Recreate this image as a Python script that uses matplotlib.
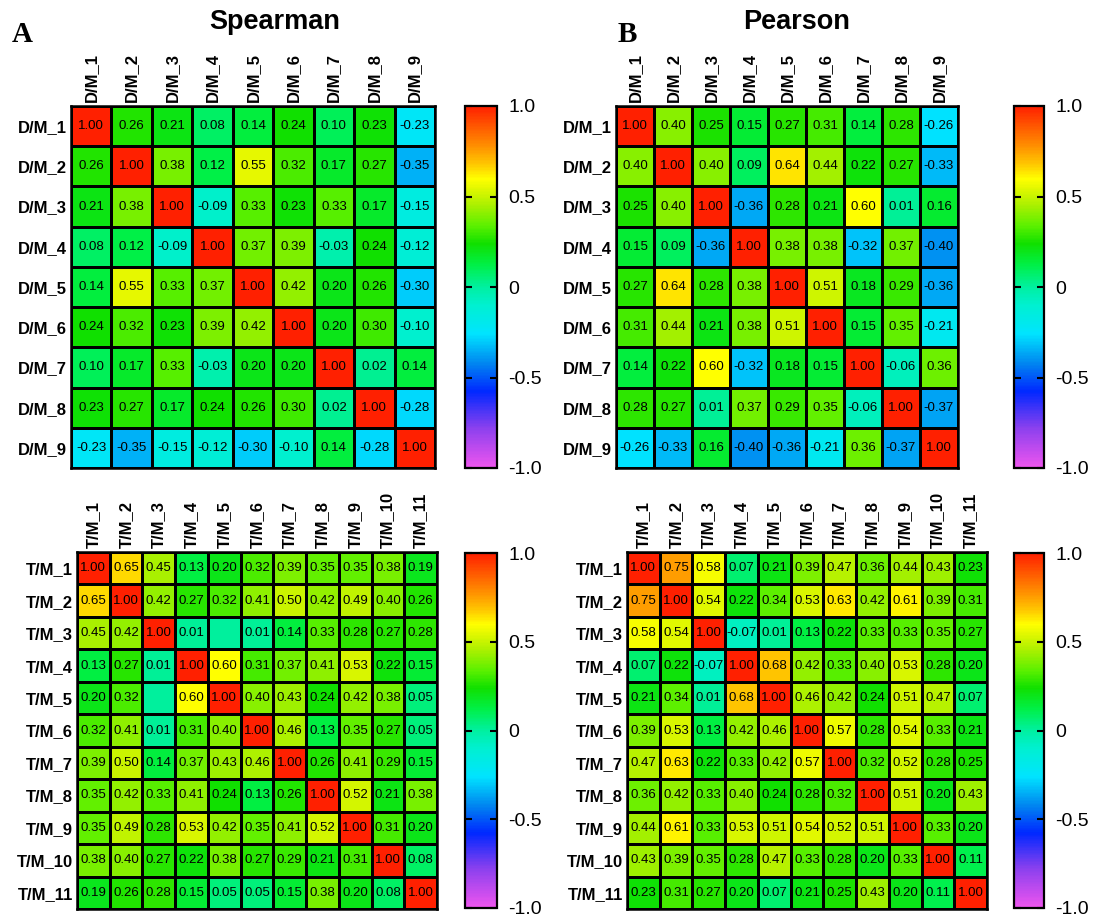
import numpy as np
import matplotlib.pyplot as plt
from matplotlib.colors import LinearSegmentedColormap

plt.rcParams['font.family'] = ['Liberation Sans', 'DejaVu Sans']

dm_labels = ['D/M_1', 'D/M_2', 'D/M_3', 'D/M_4', 'D/M_5', 'D/M_6', 'D/M_7', 'D/M_8', 'D/M_9']
tm_labels = ['T/M_1', 'T/M_2', 'T/M_3', 'T/M_4', 'T/M_5', 'T/M_6', 'T/M_7', 'T/M_8',
             'T/M_9', 'T/M_10', 'T/M_11']

spearman_dm = [
    [1.00, 0.26, 0.21, 0.08, 0.14, 0.24, 0.10, 0.23, -0.23],
    [0.26, 1.00, 0.38, 0.12, 0.55, 0.32, 0.17, 0.27, -0.35],
    [0.21, 0.38, 1.00, -0.09, 0.33, 0.23, 0.33, 0.17, -0.15],
    [0.08, 0.12, -0.09, 1.00, 0.37, 0.39, -0.03, 0.24, -0.12],
    [0.14, 0.55, 0.33, 0.37, 1.00, 0.42, 0.20, 0.26, -0.30],
    [0.24, 0.32, 0.23, 0.39, 0.42, 1.00, 0.20, 0.30, -0.10],
    [0.10, 0.17, 0.33, -0.03, 0.20, 0.20, 1.00, 0.02, 0.14],
    [0.23, 0.27, 0.17, 0.24, 0.26, 0.30, 0.02, 1.00, -0.28],
    [-0.23, -0.35, -0.15, -0.12, -0.30, -0.10, 0.14, -0.28, 1.00],
]

pearson_dm = [
    [1.00, 0.40, 0.25, 0.15, 0.27, 0.31, 0.14, 0.28, -0.26],
    [0.40, 1.00, 0.40, 0.09, 0.64, 0.44, 0.22, 0.27, -0.33],
    [0.25, 0.40, 1.00, -0.36, 0.28, 0.21, 0.60, 0.01, 0.16],
    [0.15, 0.09, -0.36, 1.00, 0.38, 0.38, -0.32, 0.37, -0.40],
    [0.27, 0.64, 0.28, 0.38, 1.00, 0.51, 0.18, 0.29, -0.36],
    [0.31, 0.44, 0.21, 0.38, 0.51, 1.00, 0.15, 0.35, -0.21],
    [0.14, 0.22, 0.60, -0.32, 0.18, 0.15, 1.00, -0.06, 0.36],
    [0.28, 0.27, 0.01, 0.37, 0.29, 0.35, -0.06, 1.00, -0.37],
    [-0.26, -0.33, 0.16, -0.40, -0.36, -0.21, 0.36, -0.37, 1.00],
]

spearman_tm = [
    [1.00, 0.65, 0.45, 0.13, 0.20, 0.32, 0.39, 0.35, 0.35, 0.38, 0.19],
    [0.65, 1.00, 0.42, 0.27, 0.32, 0.41, 0.50, 0.42, 0.49, 0.40, 0.26],
    [0.45, 0.42, 1.00, 0.01, 0.00, 0.01, 0.14, 0.33, 0.28, 0.27, 0.28],
    [0.13, 0.27, 0.01, 1.00, 0.60, 0.31, 0.37, 0.41, 0.53, 0.22, 0.15],
    [0.20, 0.32, 0.00, 0.60, 1.00, 0.40, 0.43, 0.24, 0.42, 0.38, 0.05],
    [0.32, 0.41, 0.01, 0.31, 0.40, 1.00, 0.46, 0.13, 0.35, 0.27, 0.05],
    [0.39, 0.50, 0.14, 0.37, 0.43, 0.46, 1.00, 0.26, 0.41, 0.29, 0.15],
    [0.35, 0.42, 0.33, 0.41, 0.24, 0.13, 0.26, 1.00, 0.52, 0.21, 0.38],
    [0.35, 0.49, 0.28, 0.53, 0.42, 0.35, 0.41, 0.52, 1.00, 0.31, 0.20],
    [0.38, 0.40, 0.27, 0.22, 0.38, 0.27, 0.29, 0.21, 0.31, 1.00, 0.08],
    [0.19, 0.26, 0.28, 0.15, 0.05, 0.05, 0.15, 0.38, 0.20, 0.08, 1.00],
]
# cells left without a printed value in the original
spearman_tm_blank = [(2, 4), (4, 2)]

pearson_tm = [
    [1.00, 0.75, 0.58, 0.07, 0.21, 0.39, 0.47, 0.36, 0.44, 0.43, 0.23],
    [0.75, 1.00, 0.54, 0.22, 0.34, 0.53, 0.63, 0.42, 0.61, 0.39, 0.31],
    [0.58, 0.54, 1.00, -0.07, 0.01, 0.13, 0.22, 0.33, 0.33, 0.35, 0.27],
    [0.07, 0.22, -0.07, 1.00, 0.68, 0.42, 0.33, 0.40, 0.53, 0.28, 0.20],
    [0.21, 0.34, 0.01, 0.68, 1.00, 0.46, 0.42, 0.24, 0.51, 0.47, 0.07],
    [0.39, 0.53, 0.13, 0.42, 0.46, 1.00, 0.57, 0.28, 0.54, 0.33, 0.21],
    [0.47, 0.63, 0.22, 0.33, 0.42, 0.57, 1.00, 0.32, 0.52, 0.28, 0.25],
    [0.36, 0.42, 0.33, 0.40, 0.24, 0.28, 0.32, 1.00, 0.51, 0.20, 0.43],
    [0.44, 0.61, 0.33, 0.53, 0.51, 0.54, 0.52, 0.51, 1.00, 0.33, 0.20],
    [0.43, 0.39, 0.35, 0.28, 0.47, 0.33, 0.28, 0.20, 0.33, 1.00, 0.11],
    [0.23, 0.31, 0.27, 0.20, 0.07, 0.21, 0.25, 0.43, 0.20, 0.11, 1.00],
]

cbar_ticks = [-1.0, -0.5, 0, 0.5, 1.0]
cbar_ticklabels = ['-1.0', '-0.5', '0', '0.5', '1.0']

# rainbow scale: magenta -> blue -> cyan -> green -> yellow -> red
stops = [
    (-1.00, '#ee55ee'), (-0.78, '#8a40ee'), (-0.58, '#0028ff'), (-0.42, '#0088f0'),
    (-0.26, '#00e4ff'), (-0.10, '#00f0d0'), (0.00, '#00f0a0'), (0.12, '#00f048'),
    (0.24, '#10e000'), (0.34, '#5cf000'), (0.45, '#a8f000'), (0.55, '#e4f800'),
    (0.60, '#ffff00'), (0.68, '#ffc800'), (0.78, '#ff9000'), (1.00, '#ff2000'),
]
cmap = LinearSegmentedColormap.from_list(
    'corr', [((v + 1) / 2, c) for v, c in stops])


def heatmap(ax, cax, values, labels, blank=(), cell_fs=9.5, label_fs=12):
    data = np.array(values)
    n = data.shape[0]
    mesh = ax.pcolormesh(data, cmap=cmap, vmin=-1, vmax=1,
                         edgecolors='black', linewidth=0.8)
    ax.set_xlim(0, n)
    ax.set_ylim(n, 0)
    for i in range(n):
        for j in range(n):
            if (i, j) in blank:
                continue
            ax.text(j + 0.5, i + 0.5, f'{data[i, j]:.2f}', ha='center', va='center',
                    fontsize=cell_fs, color='black')
    ax.xaxis.tick_top()
    ax.set_xticks(np.arange(n) + 0.5)
    ax.set_xticklabels(labels, rotation=90, fontsize=label_fs, fontweight='bold')
    ax.set_yticks(np.arange(n) + 0.5)
    ax.set_yticklabels(labels, fontsize=label_fs, fontweight='bold')
    ax.tick_params(length=0, pad=3)
    for s in ax.spines.values():
        s.set_linewidth(1.8)

    cb = plt.colorbar(mesh, cax=cax)
    cb.set_ticks(cbar_ticks)
    cb.set_ticklabels(cbar_ticklabels)
    cb.outline.set_linewidth(1.6)
    cax.tick_params(direction='in', left=True, right=True, length=5, width=1.5,
                    labelsize=14, pad=8)


fig = plt.figure(figsize=(10.94, 9.19), dpi=100)
W, H = 1094, 919


def box(x0, y0, x1, y1):
    return [x0 / W, 1 - y1 / H, (x1 - x0) / W, (y1 - y0) / H]


ax_a1 = fig.add_axes(box(71, 106, 435, 468))
cax_a1 = fig.add_axes(box(465, 106, 497, 468))
ax_b1 = fig.add_axes(box(616, 106, 958, 468))
cax_b1 = fig.add_axes(box(1014, 106, 1044, 468))
ax_a2 = fig.add_axes(box(77, 552, 437, 909))
cax_a2 = fig.add_axes(box(465, 553, 497, 908))
ax_b2 = fig.add_axes(box(627, 552, 987, 909))
cax_b2 = fig.add_axes(box(1014, 553, 1044, 908))

heatmap(ax_a1, cax_a1, spearman_dm, dm_labels)
heatmap(ax_b1, cax_b1, pearson_dm, dm_labels)
heatmap(ax_a2, cax_a2, spearman_tm, tm_labels, blank=spearman_tm_blank)
heatmap(ax_b2, cax_b2, pearson_tm, tm_labels)

fig.text(275 / W, 1 - 22 / H, 'Spearman', ha='center', va='center',
         fontsize=19.5, fontweight='bold')
fig.text(797 / W, 1 - 22 / H, 'Pearson', ha='center', va='center',
         fontsize=19.5, fontweight='bold')
fig.text(12 / W, 1 - 34 / H, 'A', ha='left', va='center', fontsize=21,
         fontweight='bold', family='Liberation Serif')
fig.text(618 / W, 1 - 34 / H, 'B', ha='left', va='center', fontsize=21,
         fontweight='bold', family='Liberation Serif')

fig.savefig('out.png', dpi=100)
